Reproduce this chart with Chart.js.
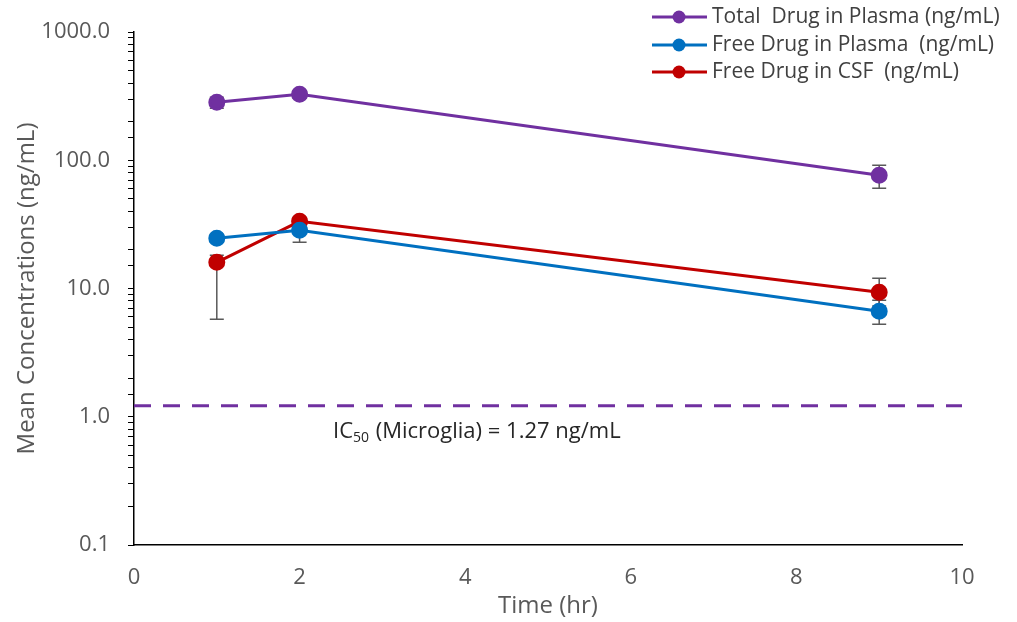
<!DOCTYPE html>
<html><head><meta charset="utf-8">
<script src="https://cdn.jsdelivr.net/npm/chart.js@4.4.0/dist/chart.umd.min.js"></script>
<style>html,body{margin:0;padding:0;background:#fff}#wrap{width:1017px;height:622px;position:relative}</style>
</head><body><div id="wrap"><canvas id="c" width="1017" height="622"></canvas></div>
<script>
// ---- data ----
const times = [1, 2, 9];
const seriesLabels = ['Total  Drug in Plasma (ng/mL)', 'Free Drug in Plasma  (ng/mL)', 'Free Drug in CSF  (ng/mL)'];
const totalPlasma = [283, 327, 76.4];
const totalPlasmaLow = [254, 305, 60.5];
const totalPlasmaHigh = [310, 350, 91.4];
const freePlasma = [24.7, 28.5, 6.65];
const freePlasmaLow = [23.0, 22.9, 5.26];
const freePlasmaHigh = [26.5, 34.0, 8.1];
const freeCSF = [16.0, 33.4, 9.35];
const freeCSFLow = [5.75, 30.0, 7.3];
const freeCSFHigh = [18.2, 36.0, 12.0];
const ic50Value = 1.22;
const yTickLabels = [0.1, 1, 10, 100, 1000];
const xTicks = [0, 2, 4, 6, 8, 10];

const colors = ['#7030A0', '#0070C0', '#C00000'];
const FONT = "'Open Sans', 'Liberation Sans', sans-serif";

function pts(v){ return times.map((t,i)=>({x:t,y:v[i]})); }
const lows = [totalPlasmaLow, freePlasmaLow, freeCSFLow];
const highs = [totalPlasmaHigh, freePlasmaHigh, freeCSFHigh];

const errorBars = {
  id:'errorBars',
  beforeDatasetsDraw(chart){
    const {ctx, scales:{x,y}} = chart;
    ctx.save();
    ctx.strokeStyle = '#595959'; ctx.lineWidth = 1.5;
    for (let s=0;s<3;s++){
      times.forEach((t,i)=>{
        const px = x.getPixelForValue(t);
        const y1 = y.getPixelForValue(lows[s][i]);
        const y2 = y.getPixelForValue(highs[s][i]);
        ctx.beginPath();
        ctx.moveTo(px,y1); ctx.lineTo(px,y2);
        ctx.moveTo(px-7,y1); ctx.lineTo(px+7,y1);
        ctx.moveTo(px-7,y2); ctx.lineTo(px+7,y2);
        ctx.stroke();
      });
    }
    ctx.restore();
  }
};

const extras = {
  id:'extras',
  afterDraw(chart){
    const {ctx, scales:{x,y}} = chart;
    ctx.save();
    // IC50 label
    const ly = y.getPixelForValue(ic50Value) + 26;
    let lx = 333;
    ctx.fillStyle = '#262626';
    ctx.textBaseline = 'middle';
    ctx.font = `22px ${FONT}`;
    ctx.fillText('IC', lx, ly); lx += ctx.measureText('IC').width;
    ctx.font = `14px ${FONT}`;
    ctx.fillText('50', lx, ly+6); lx += ctx.measureText('50').width + 1;
    ctx.font = `22px ${FONT}`;
    ctx.fillText(' (Microglia) = 1.27 ng/mL', lx, ly);
    // legend
    const rows = [17, 45, 72];
    for (let s=0;s<3;s++){
      const ry = rows[s];
      ctx.strokeStyle = colors[s]; ctx.lineWidth = 3;
      ctx.beginPath(); ctx.moveTo(652, ry); ctx.lineTo(707, ry); ctx.stroke();
      ctx.fillStyle = colors[s];
      ctx.beginPath(); ctx.arc(679, ry, 6.5, 0, Math.PI*2); ctx.fill();
      ctx.fillStyle = '#404040';
      ctx.font = `21px ${FONT}`;
      ctx.textBaseline = 'middle';
      ctx.fillText(seriesLabels[s], 712, ry);
    }
    ctx.restore();
  }
};

const mk = (label, data, c) => ({
  label, data: pts(data), borderColor:c, backgroundColor:c,
  borderWidth:3, pointRadius:7, pointHoverRadius:7, pointBackgroundColor:c, pointBorderColor:c, tension:0
});

new Chart(document.getElementById('c'), {
  type:'line',
  data:{ datasets:[
    mk(seriesLabels[0], totalPlasma, colors[0]),
    mk(seriesLabels[1], freePlasma, colors[1]),
    mk(seriesLabels[2], freeCSF, colors[2]),
    { label:'IC50', data:[{x:0,y:ic50Value},{x:10,y:ic50Value}], borderColor:'#7030A0', borderWidth:3,
      borderDash:[17,12], pointRadius:0, order:10 }
  ]},
  options:{
    responsive:false, animation:false,
    layout:{ padding:{ top:32, right:55, left:0, bottom:0 } },
    plugins:{ legend:{display:false}, tooltip:{enabled:false} },
    scales:{
      x:{ type:'linear', min:0, max:10,
        afterBuildTicks(ax){ ax.ticks = xTicks.map(v=>({value:v})); },
        afterFit(s){ s.height = 77; },
        grid:{ display:false, drawTicks:false },
        border:{ display:true, color:'#000', width:1.5 },
        ticks:{ color:'#595959', font:{family:FONT, size:22}, padding:20 },
        title:{ display:true, text:'Time (hr)', color:'#595959', font:{family:FONT, size:24}, padding:{top:0, bottom:1} }
      },
      y:{ type:'logarithmic', min:0.1, max:1000,
        afterFit(s){ s.width = 134; },
        grid:{ display:true, drawOnChartArea:false, drawTicks:true, tickLength:6, color:'#000', lineWidth:1 },
        border:{ display:true, color:'#000', width:1.5 },
        ticks:{ autoSkip:false, color:'#595959', font:{family:FONT, size:22}, padding:18,
          callback(v){ return yTickLabels.some(t=>Math.abs(t-v)<1e-9*Math.max(1,t)) ? Number(v).toFixed(1) : ''; } },
        title:{ display:true, text:'Mean Concentrations (ng/mL)', color:'#595959', font:{family:FONT, size:24}, padding:{top:13, bottom:3} }
      }
    }
  },
  plugins:[errorBars, extras]
});
</script></body></html>
